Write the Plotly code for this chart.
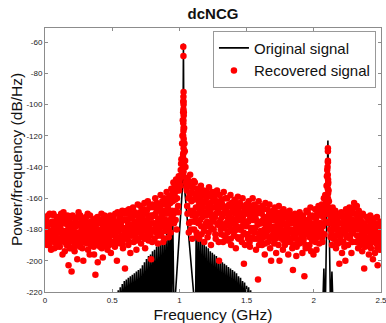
import numpy as np
import plotly.graph_objects as go

# ---------------- data ----------------
# Recovered signal: PSD on two interleaved uniform frequency grids (GHz), dB/Hz
freq_a = np.round(np.arange(501) * 0.005, 4)
rec_db_a = [
    -178, -185, -172, -190, -181, -176, -188, -170, -183, -193,   # 0.00
    -175, -187, -180, -171, -192, -184, -177, -189, -173, -182,   # 0.05
    -186, -174, -191, -179, -170, -185, -196, -176, -183, -188,   # 0.10
    -172, -181, -190, -177, -185, -203, -174, -186, -180, -192,   # 0.15
    -183, -171, -188, -178, -194, -175, -182, -189, -199, -176,   # 0.20
    -169, -184, -191, -177, -186, -173, -180, -200, -187, -175,   # 0.25
    -182, -172, -189, -179, -193, -176, -185, -171, -190, -181,   # 0.30
    -178, -188, -174, -196, -183, -209, -177, -186, -172, -190,   # 0.35
    -184, -175, -191, -180, -170, -187, -198, -178, -185, -173,   # 0.40
    -189, -176, -182, -193, -174, -186, -180, -171, -195, -183,   # 0.45
    -177, -188, -172, -184, -191, -175, -182, -200, -169, -186,   # 0.50
    -180, -173, -189, -176, -185, -168, -192, -179, -183, -205,   # 0.55
    -174, -186, -170, -182, -190, -167, -178, -195, -184, -172,   # 0.60
    -181, -166, -188, -175, -184, -170, -193, -177, -164, -186,   # 0.65
    -173, -182, -165, -189, -176, -168, -185, -179, -163, -192,   # 0.70
    -170, -184, -175, -162, -187, -178, -166, -183, -199, -172,   # 0.75
    -164, -180, -171, -186, -160, -176, -182, -168, -189, -174,   # 0.80
    -167, -179, -158, -184, -172, -163, -188, -175, -160, -181,   # 0.85
    -170, -156, -178, -165, -185, -159, -174, -182, -154, -168,   # 0.90
    -162, -150, -176, -157, -168, -148, -180, -155, -165, -146,   # 0.95
    -150, -146, -142, -135, -125, -110, -98, -115, -130, -140,    # 1.00
    -147, -155, -170, -150, -182, -158, -145, -175, -162, -186,   # 1.05
    -153, -168, -180, -150, -172, -160, -184, -156, -176, -165,   # 1.10
    -158, -174, -152, -183, -166, -170, -155, -188, -162, -178,   # 1.15
    -171, -156, -185, -164, -153, -178, -168, -190, -159, -175,   # 1.20
    -162, -180, -157, -172, -186, -165, -155, -177, -169, -200,   # 1.25
    -158, -174, -183, -163, -170, -188, -156, -179, -167, -185,   # 1.30
    -176, -160, -187, -170, -164, -181, -158, -190, -173, -166,   # 1.35
    -168, -184, -161, -177, -192, -165, -173, -159, -186, -171,   # 1.40
    -163, -180, -170, -188, -160, -175, -202, -167, -183, -176,   # 1.45
    -178, -165, -186, -162, -174, -191, -168, -181, -170, -160,   # 1.50
    -172, -186, -164, -179, -193, -167, -175, -212, -162, -184,   # 1.55
    -169, -181, -176, -190, -165, -185, -172, -196, -163, -178,   # 1.60
    -182, -167, -188, -175, -164, -192, -171, -180, -186, -168,   # 1.65
    -174, -189, -166, -181, -195, -170, -184, -177, -165, -200,   # 1.70
    -179, -169, -186, -174, -193, -167, -183, -190, -172, -178,   # 1.75
    -185, -171, -196, -176, -168, -188, -180, -173, -192, -206,   # 1.80
    -175, -190, -170, -184, -197, -178, -172, -187, -181, -169,   # 1.85
    -188, -173, -182, -195, -171, -186, -210, -177, -192, -168,   # 1.90
    -180, -169, -191, -175, -185, -166, -194, -178, -171, -187,   # 1.95
    -172, -186, -167, -180, -193, -170, -184, -165, -189, -176,   # 2.00
    -168, -181, -164, -188, -172, -160, -183, -158, -170, -152,   # 2.05
    -142, -136, -155, -176, -168, -185, -172, -190, -166, -180,   # 2.10
    -174, -186, -168, -192, -177, -171, -189, -180, -202, -170,   # 2.15
    -183, -169, -195, -176, -188, -172, -180, -200, -167, -185,   # 2.20
    -171, -190, -178, -166, -186, -174, -195, -169, -182, -176,   # 2.25
    -163, -180, -170, -188, -165, -176, -192, -168, -184, -173,   # 2.30
    -186, -175, -194, -170, -183, -205, -177, -190, -172, -181,   # 2.35
    -188, -174, -196, -180, -171, -192, -184, -177, -199, -173,   # 2.40
    -182, -195, -176, -189, -172, -203, -185, -178, -193, -175,   # 2.45
    -184,                                                         # 2.50
]

freq_b = np.round(0.0025 + np.arange(500) * 0.005, 4)
rec_db_b = [
    -181, -174, -187, -179, -171, -184, -190, -176, -182, -186,   # 0.00
    -183, -177, -170, -188, -180, -175, -185, -191, -178, -172,   # 0.05
    -179, -189, -176, -182, -173, -187, -181, -169, -184, -194,   # 0.10
    -186, -175, -183, -171, -189, -179, -192, -176, -182, -207,   # 0.15
    -177, -185, -180, -191, -173, -186, -178, -183, -172, -188,   # 0.20
    -182, -176, -171, -189, -180, -192, -175, -184, -178, -186,   # 0.25
    -174, -187, -180, -170, -184, -177, -196, -182, -175, -188,   # 0.30
    -185, -179, -191, -176, -182, -173, -188, -180, -201, -184,   # 0.35
    -176, -189, -181, -174, -192, -183, -177, -186, -171, -190,   # 0.40
    -180, -172, -187, -178, -184, -190, -175, -182, -188, -179,   # 0.45
    -183, -176, -181, -190, -170, -185, -178, -188, -175, -181,   # 0.50
    -186, -178, -171, -184, -180, -189, -174, -186, -170, -181,   # 0.55
    -179, -168, -185, -176, -181, -188, -173, -170, -182, -177,   # 0.60
    -172, -184, -178, -169, -181, -176, -187, -171, -180, -174,   # 0.65
    -179, -169, -177, -184, -171, -181, -174, -167, -186, -175,   # 0.70
    -177, -168, -181, -173, -179, -165, -184, -171, -176, -188,   # 0.75
    -171, -176, -166, -181, -170, -178, -163, -184, -173, -167,   # 0.80
    -176, -165, -182, -170, -162, -178, -168, -186, -164, -174,   # 0.85
    -162, -175, -167, -160, -179, -170, -163, -176, -158, -172,   # 0.90
    -156, -170, -153, -161, -174, -152, -160, -149, -169, -155,   # 0.95
    -148, -152, -138, -145, -120, -132, -105, -125, -136, -150,   # 1.00
    -153, -165, -148, -160, -176, -152, -168, -180, -156, -171,   # 1.05
    -161, -149, -175, -158, -166, -182, -154, -170, -162, -186,   # 1.10
    -167, -160, -178, -155, -172, -163, -181, -158, -169, -176,   # 1.15
    -160, -175, -166, -182, -158, -170, -163, -179, -172, -156,   # 1.20
    -174, -166, -159, -183, -170, -162, -176, -168, -188, -164,   # 1.25
    -166, -180, -161, -172, -177, -165, -184, -170, -160, -176,   # 1.30
    -168, -182, -173, -165, -178, -170, -186, -163, -175, -180,   # 1.35
    -176, -166, -181, -170, -163, -178, -185, -168, -174, -180,   # 1.40
    -171, -185, -165, -178, -172, -182, -168, -190, -175, -164,   # 1.45
    -170, -183, -175, -167, -188, -172, -179, -165, -185, -174,   # 1.50
    -179, -168, -182, -173, -170, -186, -177, -166, -190, -175,   # 1.55
    -176, -187, -170, -182, -174, -167, -180, -189, -175, -184,   # 1.60
    -172, -180, -177, -170, -185, -178, -200, -174, -169, -183,   # 1.65
    -181, -172, -178, -186, -169, -180, -175, -190, -173, -182,   # 1.70
    -172, -184, -177, -181, -170, -187, -176, -169, -185, -180,   # 1.75
    -178, -183, -174, -188, -181, -171, -186, -176, -182, -190,   # 1.80
    -183, -172, -186, -179, -191, -174, -182, -176, -189, -178,   # 1.85
    -176, -185, -179, -172, -188, -180, -174, -190, -183, -179,   # 1.90
    -174, -183, -178, -190, -172, -181, -176, -187, -183, -196,   # 1.95
    -182, -176, -188, -173, -179, -185, -171, -178, -182, -170,   # 2.00
    -176, -170, -185, -178, -166, -176, -168, -175, -162, -146,   # 2.05
    -140, -150, -162, -170, -180, -174, -183, -169, -177, -186,   # 2.10
    -180, -172, -184, -178, -188, -173, -182, -176, -170, -185,   # 2.15
    -176, -188, -172, -181, -178, -191, -174, -183, -177, -170,   # 2.20
    -180, -175, -185, -171, -179, -183, -168, -188, -174, -180,   # 2.25
    -170, -166, -178, -174, -184, -180, -171, -186, -178, -190,   # 2.30
    -178, -183, -180, -188, -176, -184, -191, -179, -185, -187,   # 2.35
    -181, -186, -178, -190, -183, -176, -188, -180, -186, -179,   # 2.40
    -178, -188, -183, -180, -192, -181, -187, -176, -183, -190,   # 2.45
]

# Recovered signal: extra bins stacked on the two tones
rec_pk1_f = [1.029, 1.030, 1.031, 1.030, 1.029, 1.031, 1.030, 1.028, 1.032, 1.030,
             1.029, 1.031, 1.030, 1.028, 1.032, 1.029, 1.031, 1.030, 1.027, 1.033,
             1.029, 1.031, 1.030]
rec_pk1_v = [-63, -69, -92, -95, -98, -100, -103, -105, -107, -110,
             -112, -115, -117, -120, -122, -125, -128, -131, -134, -137,
             -140, -143, -146]
rec_pk2_f = [2.105, 2.105, 2.105, 2.104, 2.106, 2.105, 2.104, 2.106, 2.105, 2.103,
             2.107, 2.105]
rec_pk2_v = [-128, -130, -137, -145, -148, -151, -154, -157, -160, -163,
             -166, -170]

# Original signal: sidelobe peaks (dB/Hz) left and right of the 1.03 GHz tone
NULL_DB = -235
lobe_f_left = np.round(0.545 + np.arange(28) * 0.015, 4)
lobe_v_left = [-219, -217, -215, -213, -212, -211, -210, -209, -208, -207,
               -206, -205, -203, -201, -199, -197, -196, -194, -193, -191,
               -189, -188, -186, -184, -182, -179, -175, -170]
main_lobe_f = [0.96, 1.025, 1.03, 1.035, 1.12]
main_lobe_v = [NULL_DB, -150, -61, -150, NULL_DB]
lobe_f_right = np.round(1.125 + np.arange(29) * 0.015, 4)
lobe_v_right = [-180, -183, -185, -187, -188, -191, -192, -194, -195, -196,
                -197, -199, -200, -201, -202, -203, -204, -205, -206, -207,
                -208, -210, -211, -213, -214, -216, -217, -219, -220]
# Original signal around the 2.105 GHz tone
tone2_f = [2.065, 2.075, 2.085, 2.105, 2.125, 2.135, 2.145]
tone2_v = [NULL_DB, -205, NULL_DB, -123, NULL_DB, -207, NULL_DB]

x_ticks = [0, 0.5, 1, 1.5, 2, 2.5]
x_tick_labels = ["0", "0.5", "1", "1.5", "2", "2.5"]
y_ticks = [-220, -200, -180, -160, -140, -120, -100, -80, -60]
y_tick_labels = ["-220", "-200", "-180", "-160", "-140", "-120", "-100", "-80", "-60"]

# ---------------- build traces ----------------
orig_x, orig_y = [], []
for f, v in zip(lobe_f_left, lobe_v_left):          # null then lobe
    orig_x += [round(f - 0.0075, 4), f]
    orig_y += [NULL_DB, v]
orig_x += main_lobe_f
orig_y += main_lobe_v
for f, v in zip(lobe_f_right, lobe_v_right):         # lobe then null
    orig_x += [f, round(f + 0.0075, 4)]
    orig_y += [v, NULL_DB]
orig_x += [None] + tone2_f
orig_y += [None] + tone2_v

rec_x = list(freq_a) + list(freq_b) + rec_pk1_f + rec_pk2_f
rec_y = list(rec_db_a) + list(rec_db_b) + rec_pk1_v + rec_pk2_v

FONT = "Liberation Sans, Arial, Helvetica, sans-serif"

fig = go.Figure()
fig.add_trace(go.Scatter(
    x=orig_x, y=orig_y, mode="lines", name="Original signal",
    line=dict(color="black", width=1.6), connectgaps=False, hoverinfo="skip"))
fig.add_trace(go.Scatter(
    x=rec_x, y=rec_y, mode="markers", name="Recovered signal",
    marker=dict(color="#ff0000", size=6.5, line=dict(width=0)), hoverinfo="skip"))

axis_common = dict(
    showgrid=False, zeroline=False, showline=True, linecolor="#8c8c8c", linewidth=1,
    mirror="ticks", ticks="inside", ticklen=3, tickcolor="#8c8c8c",
    ticklabeloverflow="allow", automargin=False,
    tickfont=dict(family=FONT, size=8, color="#222222"))

fig.update_layout(
    width=386, height=323, autosize=False,
    margin=dict(l=45, r=5, t=28, b=31, autoexpand=False),
    paper_bgcolor="white", plot_bgcolor="white",
    font=dict(family=FONT, color="#111111"),
    title=dict(text="<b>dcNCG</b>", x=0.5, xref="paper", xanchor="center",
               y=1 - 14 / 323, yref="container", yanchor="middle",
               font=dict(family=FONT, size=15, color="#111111")),
    xaxis=dict(range=[-0.0001, 2.5001], tickvals=x_ticks, ticktext=x_tick_labels,
               title=dict(text="Frequency (GHz)", font=dict(family=FONT, size=15.5),
                          standoff=7),
               **axis_common),
    yaxis=dict(range=[-220.05, -51], tickvals=y_ticks, ticktext=y_tick_labels,
               **axis_common),
    annotations=[dict(text="Power/frequency (dB/Hz)", textangle=-90,
                      xref="paper", yref="paper", x=(16 - 45) / 336, y=0.5,
                      xanchor="center", yanchor="middle", showarrow=False,
                      font=dict(family=FONT, size=15.5, color="#111111"))],
    legend=dict(x=0.985, xanchor="right", y=0.99, yanchor="top",
                bgcolor="white", bordercolor="#999999", borderwidth=1,
                font=dict(family=FONT, size=15, color="#111111"),
                tracegroupgap=0),
    showlegend=True,
)

fig.write_html("out.html")
